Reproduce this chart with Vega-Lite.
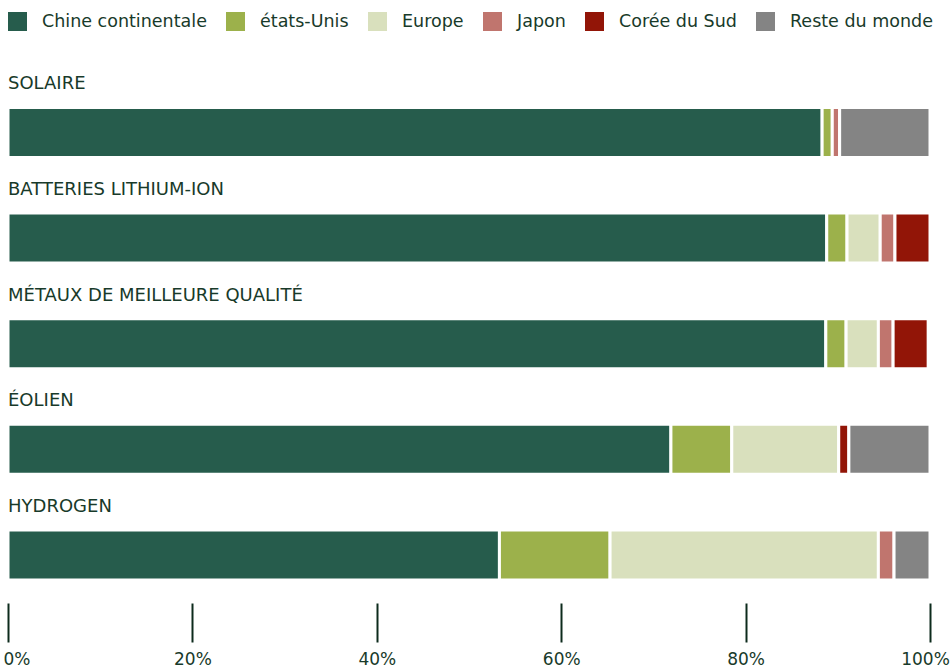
{
  "$schema": "https://vega.github.io/schema/vega-lite/v6.json",
  "width": 922,
  "height": 528,
  "autosize": {"type": "none"},
  "padding": {"left": 8, "top": 60, "right": 22, "bottom": 81},
  "background": "white",
  "config": {
    "view": {"stroke": null},
    "font": "DejaVu Sans"
  },
  "data": {
    "values": [
      {"cat": "SOLAIRE", "region": "Chine continentale", "rang": 1, "v": 88.3},
      {"cat": "SOLAIRE", "region": "états-Unis", "rang": 2, "v": 1.1},
      {"cat": "SOLAIRE", "region": "Japon", "rang": 4, "v": 0.8},
      {"cat": "SOLAIRE", "region": "Reste du monde", "rang": 6, "v": 9.8},
      {"cat": "BATTERIES LITHIUM-ION", "region": "Chine continentale", "rang": 1, "v": 88.8},
      {"cat": "BATTERIES LITHIUM-ION", "region": "états-Unis", "rang": 2, "v": 2.2},
      {"cat": "BATTERIES LITHIUM-ION", "region": "Europe", "rang": 3, "v": 3.6},
      {"cat": "BATTERIES LITHIUM-ION", "region": "Japon", "rang": 4, "v": 1.6},
      {"cat": "BATTERIES LITHIUM-ION", "region": "Corée du Sud", "rang": 5, "v": 3.8},
      {"cat": "MÉTAUX DE MEILLEURE QUALITÉ", "region": "Chine continentale", "rang": 1, "v": 88.7},
      {"cat": "MÉTAUX DE MEILLEURE QUALITÉ", "region": "états-Unis", "rang": 2, "v": 2.2},
      {"cat": "MÉTAUX DE MEILLEURE QUALITÉ", "region": "Europe", "rang": 3, "v": 3.5},
      {"cat": "MÉTAUX DE MEILLEURE QUALITÉ", "region": "Japon", "rang": 4, "v": 1.6},
      {"cat": "MÉTAUX DE MEILLEURE QUALITÉ", "region": "Corée du Sud", "rang": 5, "v": 3.8},
      {"cat": "ÉOLIEN", "region": "Chine continentale", "rang": 1, "v": 71.9},
      {"cat": "ÉOLIEN", "region": "états-Unis", "rang": 2, "v": 6.6},
      {"cat": "ÉOLIEN", "region": "Europe", "rang": 3, "v": 11.6},
      {"cat": "ÉOLIEN", "region": "Corée du Sud", "rang": 5, "v": 1.1},
      {"cat": "ÉOLIEN", "region": "Reste du monde", "rang": 6, "v": 8.8},
      {"cat": "HYDROGEN", "region": "Chine continentale", "rang": 1, "v": 53.3},
      {"cat": "HYDROGEN", "region": "états-Unis", "rang": 2, "v": 12.0},
      {"cat": "HYDROGEN", "region": "Europe", "rang": 3, "v": 29.1},
      {"cat": "HYDROGEN", "region": "Japon", "rang": 4, "v": 1.7},
      {"cat": "HYDROGEN", "region": "Reste du monde", "rang": 6, "v": 3.9}
    ]
  },
  "encoding": {
    "y": {
      "field": "cat",
      "type": "nominal",
      "sort": null,
      "scale": {"paddingInner": 0, "paddingOuter": 0},
      "axis": null
    }
  },
  "layer": [
    {
      "mark": {"type": "bar", "height": 50, "yOffset": 19.7, "stroke": "white", "strokeWidth": 3},
      "encoding": {
        "x": {
          "field": "v",
          "type": "quantitative",
          "stack": "zero",
          "scale": {"domain": [0, 100], "nice": false},
          "axis": {
            "values": [0, 20, 40, 60, 80, 100],
            "labelExpr": "datum.value + '%'",
            "domain": false,
            "grid": false,
            "title": null,
            "offset": 15,
            "tickSize": 39,
            "tickWidth": 2,
            "tickColor": "#0d2b1c",
            "labelColor": "#183a2a",
            "labelFont": "DejaVu Sans",
            "labelFontSize": 17,
            "labelPadding": 9,
            "labelFlush": false,
            "labelAlign": {"condition": {"test": "datum.value == 0", "value": "left"}, "value": "center"},
            "labelOffset": {"condition": [{"test": "datum.value == 0", "value": -5}, {"test": "datum.value == 100", "value": -5}], "value": 0}
          }
        },
        "order": {"field": "rang", "type": "quantitative", "sort": "ascending"},
        "color": {
          "field": "region",
          "type": "nominal",
          "scale": {
            "domain": ["Chine continentale", "états-Unis", "Europe", "Japon", "Corée du Sud", "Reste du monde"],
            "range": ["#265c4c", "#9cb14b", "#d9e0bd", "#c0756e", "#921507", "#848484"]
          },
          "legend": {
            "orient": "none",
            "direction": "horizontal",
            "legendX": 0,
            "legendY": -48,
            "title": null,
            "symbolType": "square",
            "symbolSize": 361,
            "symbolStrokeWidth": 0,
            "labelFont": "DejaVu Sans",
            "labelFontSize": 17.5,
            "labelColor": "#183a2a",
            "labelOffset": 15,
            "columnPadding": 19,
            "labelLimit": 300
          }
        }
      }
    },
    {
      "transform": [{"filter": "datum.rang == 1"}],
      "mark": {"type": "text", "align": "left", "baseline": "middle", "yOffset": -28.5, "fontSize": 18, "color": "#183a2a", "font": "DejaVu Sans"},
      "encoding": {
        "x": {"datum": 0},
        "text": {"field": "cat"}
      }
    }
  ]
}
